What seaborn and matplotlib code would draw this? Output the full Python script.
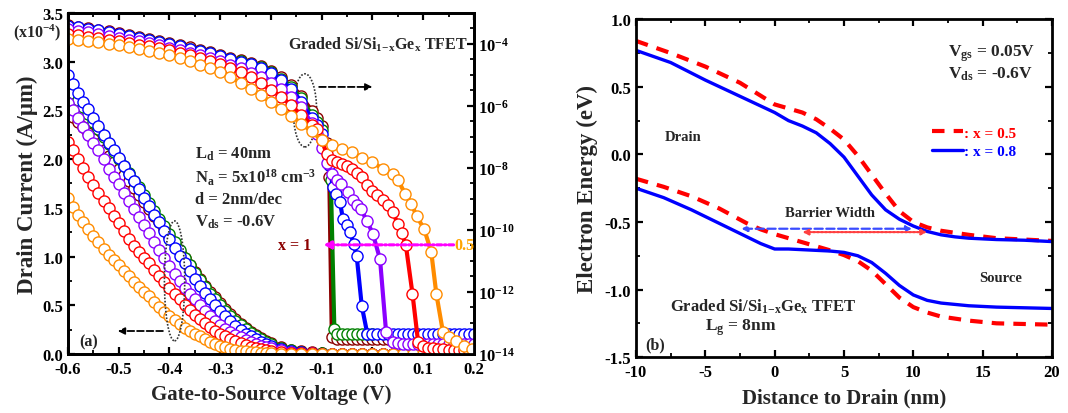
"""Graded Si/Si(1-x)Ge(x) TFET: transfer curves (a) and band diagram (b)."""
import numpy as np
import matplotlib
matplotlib.use("Agg")
import matplotlib.pyplot as plt
import matplotlib.ticker as mticker
from matplotlib.patches import Ellipse
from matplotlib.lines import Line2D
import seaborn as sns

# =============================================================================
# Panel (a) data
# =============================================================================
# linear-scale drain current (x1e-4 A/um) on the left axis
V_LIN = np.round(np.concatenate([np.arange(-0.60, -0.195, 0.01),
                                 np.arange(-0.18, 0.205, 0.02)]), 3)

LIN_MAROON = [2.48, 2.43, 2.38, 2.33, 2.27, 2.21, 2.15, 2.09, 2.03, 1.97,
              1.90, 1.84, 1.77, 1.70, 1.63, 1.56, 1.49, 1.42, 1.35, 1.28,
              1.20, 1.13, 1.05, 0.98, 0.91, 0.84, 0.77, 0.70, 0.64, 0.58,
              0.52, 0.46, 0.41, 0.36, 0.31, 0.27, 0.23, 0.19, 0.16, 0.13,
              0.11,
              0.07, 0.045, 0.028, 0.017, 0.009, 0.005, 0.002, 0.001, 0, 0,
              0, 0, 0, 0, 0, 0, 0, 0, 0, 0]
LIN_GREEN = [2.76, 2.68, 2.61, 2.53, 2.46, 2.38, 2.31, 2.23, 2.15, 2.07,
             2.00, 1.93, 1.86, 1.78, 1.71, 1.63, 1.55, 1.47, 1.39, 1.31,
             1.23, 1.15, 1.07, 0.99, 0.91, 0.83, 0.76, 0.69, 0.62, 0.56,
             0.50, 0.44, 0.39, 0.34, 0.30, 0.26, 0.22, 0.18, 0.15, 0.12,
             0.10,
             0.065, 0.04, 0.025, 0.015, 0.008, 0.004, 0.002, 0.001, 0, 0,
             0, 0, 0, 0, 0, 0, 0, 0, 0, 0]
LIN_BLUE = [2.86, 2.77, 2.68, 2.59, 2.51, 2.42, 2.34, 2.25, 2.17, 2.09,
            2.01, 1.93, 1.85, 1.77, 1.69, 1.60, 1.52, 1.43, 1.35, 1.26,
            1.18, 1.09, 1.01, 0.93, 0.85, 0.77, 0.70, 0.63, 0.56, 0.50,
            0.44, 0.39, 0.34, 0.29, 0.25, 0.21, 0.18, 0.15, 0.12, 0.10,
            0.08,
            0.05, 0.03, 0.018, 0.01, 0.005, 0.003, 0.002, 0.001, 0, 0,
            0, 0, 0, 0, 0, 0, 0, 0, 0, 0]
LIN_PURPLE = [2.58, 2.50, 2.42, 2.33, 2.25, 2.17, 2.09, 2.00, 1.90, 1.82,
              1.74, 1.65, 1.57, 1.49, 1.41, 1.32, 1.24, 1.15, 1.07, 0.98,
              0.90, 0.82, 0.75, 0.68, 0.62, 0.56, 0.50, 0.44, 0.39, 0.34,
              0.30, 0.26, 0.23, 0.20, 0.17, 0.14, 0.12, 0.10, 0.085, 0.07,
              0.06,
              0.04, 0.025, 0.015, 0.01, 0.005, 0.003, 0.002, 0.001, 0, 0,
              0, 0, 0, 0, 0, 0, 0, 0, 0, 0]
LIN_RED = [2.18, 2.09, 2.00, 1.91, 1.82, 1.73, 1.65, 1.57, 1.50, 1.42,
           1.34, 1.26, 1.18, 1.11, 1.05, 0.99, 0.93, 0.86, 0.80, 0.74,
           0.68, 0.62, 0.56, 0.50, 0.45, 0.40, 0.36, 0.32, 0.28, 0.24,
           0.21, 0.18, 0.15, 0.13, 0.11, 0.09, 0.075, 0.06, 0.05, 0.04,
           0.035,
           0.025, 0.015, 0.01, 0.006, 0.003, 0.002, 0.001, 0.0005, 0, 0,
           0, 0, 0, 0, 0, 0, 0, 0, 0, 0]
LIN_ORANGE = [1.60, 1.51, 1.43, 1.35, 1.28, 1.21, 1.15, 1.08, 1.02, 0.96,
              0.91, 0.85, 0.80, 0.74, 0.69, 0.64, 0.59, 0.53, 0.48, 0.43,
              0.39, 0.35, 0.31, 0.27, 0.24, 0.21, 0.18, 0.15, 0.12, 0.10,
              0.08, 0.067, 0.055, 0.045, 0.035, 0.027, 0.02, 0.016, 0.012, 0.009,
              0.007,
              0.004, 0.002, 0.001, 0.0005, 0, 0, 0, 0, 0, 0,
              0, 0, 0, 0, 0, 0, 0, 0, 0, 0]

# log-scale drain current (log10 A/um) on the right axis
V_TOP = np.round(np.arange(-0.60, -0.115, 0.02), 2)

LOG_MAROON_TOP = [-3.40, -3.45, -3.50, -3.55, -3.60, -3.66, -3.72, -3.78, -3.84, -3.90,
                  -3.97, -4.04, -4.11, -4.19, -4.27, -4.35, -4.44, -4.52, -4.61, -4.72,
                  -4.87, -5.07, -5.32, -5.68, -6.15]
V_MAROON_END = [-0.11, -0.10, -0.09, -0.085, -0.08, -0.07, -0.06, -0.05, -0.04,
                -0.03, -0.02, -0.01, 0.00, 0.01, 0.02, 0.03, 0.04]
LOG_MAROON_END = [-6.40, -6.65, -7.20, -8.30, -13.45, -13.52, -13.52, -13.52, -13.52,
                  -13.52, -13.52, -13.52, -13.52, -13.52, -13.52, -13.52, -13.52]

LOG_GREEN_TOP = [-3.44, -3.49, -3.54, -3.59, -3.64, -3.70, -3.76, -3.82, -3.88, -3.94,
                 -4.01, -4.08, -4.15, -4.23, -4.31, -4.39, -4.48, -4.56, -4.65, -4.76,
                 -4.91, -5.12, -5.38, -5.76, -6.28]
V_GREEN_END = [-0.11, -0.10, -0.09, -0.082, -0.075, -0.07, -0.06, -0.05, -0.04,
               -0.03, -0.02, -0.01, 0.00]
LOG_GREEN_END = [-6.52, -6.78, -7.40, -8.40, -13.20, -13.35, -13.35, -13.35, -13.35,
                 -13.35, -13.35, -13.35, -13.35]

LOG_BLUE_TOP = [-3.41, -3.46, -3.51, -3.56, -3.62, -3.68, -3.74, -3.80, -3.87, -3.93,
                -4.00, -4.07, -4.15, -4.23, -4.31, -4.40, -4.49, -4.57, -4.66, -4.78,
                -4.95, -5.18, -5.45, -5.86, -6.40]
V_BLUE_END = [-0.11, -0.10, -0.09, -0.085, -0.078, -0.071, -0.064, -0.058, -0.051,
              -0.044, -0.037, -0.031, -0.021, -0.01, 0.00, 0.01, 0.02, 0.03, 0.04,
              0.05, 0.06, 0.07, 0.08, 0.09, 0.10, 0.11, 0.12, 0.13, 0.14, 0.15,
              0.16, 0.17, 0.18, 0.19, 0.20]
LOG_BLUE_END = [-6.62, -6.90, -7.35, -7.90, -8.61, -8.85, -9.10, -9.65, -9.85,
                -10.06, -10.45, -10.84, -12.45, -13.35, -13.35, -13.35, -13.35, -13.35, -13.35,
                -13.35, -13.35, -13.35, -13.35, -13.35, -13.35, -13.35, -13.35, -13.35, -13.35,
                -13.35, -13.35, -13.35, -13.35, -13.35, -13.35]

LOG_PURPLE_TOP = [-3.52, -3.57, -3.62, -3.68, -3.74, -3.80, -3.86, -3.92, -3.98, -4.05,
                  -4.12, -4.20, -4.28, -4.37, -4.46, -4.56, -4.67, -4.79, -4.93, -5.08,
                  -5.25, -5.45, -5.70, -6.05, -6.55]
V_PURPLE_END = [-0.11, -0.10, -0.09, -0.08, -0.07, -0.061, -0.048, -0.039, -0.031,
                -0.023, -0.011, 0.001, 0.015, 0.027, 0.04, 0.05, 0.06, 0.07, 0.08,
                0.09, 0.10, 0.11, 0.12, 0.13, 0.14, 0.15, 0.16, 0.17, 0.18, 0.19, 0.20]
LOG_PURPLE_END = [-6.90, -7.35, -7.85, -8.20, -8.40, -8.52, -8.77, -9.05, -9.18,
                  -9.32, -9.70, -10.13, -10.94, -13.30, -13.60, -13.66, -13.68, -13.68, -13.68,
                  -13.68, -13.68, -13.68, -13.68, -13.68, -13.68, -13.68, -13.68, -13.68, -13.68,
                  -13.68, -13.68]

LOG_RED_TOP = [-3.68, -3.72, -3.77, -3.82, -3.87, -3.92, -3.97, -4.02, -4.07, -4.13,
               -4.20, -4.28, -4.36, -4.45, -4.55, -4.66, -4.78, -4.92, -5.07, -5.27,
               -5.48, -5.70, -5.98, -6.30, -6.60]
V_RED_END = [-0.11, -0.10, -0.09, -0.08, -0.07, -0.06, -0.05, -0.04, -0.03, -0.02,
             -0.01, 0.00, 0.01, 0.02, 0.03, 0.04, 0.05, 0.058, 0.066, 0.079,
             0.09, 0.10, 0.11, 0.12, 0.13, 0.14, 0.15, 0.16, 0.17, 0.18, 0.19, 0.20]
LOG_RED_END = [-6.74, -7.10, -7.55, -7.75, -7.82, -7.87, -7.95, -8.03, -8.15, -8.30,
               -8.55, -8.75, -8.88, -9.05, -9.20, -9.42, -9.80, -10.10, -10.50, -12.06,
               -13.60, -13.75, -13.80, -13.82, -13.84, -13.85, -13.86, -13.87, -13.88, -13.88,
               -13.89, -13.90]

LOG_ORANGE_TOP = [-3.83, -3.87, -3.91, -3.95, -4.00, -4.04, -4.09, -4.15, -4.22, -4.29,
                  -4.37, -4.46, -4.56, -4.67, -4.79, -4.92, -5.07, -5.25, -5.45, -5.65,
                  -5.88, -6.10, -6.32, -6.57, -6.82]
V_ORANGE_END = [-0.10, -0.08, -0.06, -0.04, -0.02, 0.00, 0.02, 0.04, 0.05, 0.065,
                0.077, 0.087, 0.102, 0.116, 0.126, 0.139, 0.15, 0.165, 0.18, 0.196]
LOG_ORANGE_END = [-7.10, -7.25, -7.40, -7.50, -7.68, -7.81, -8.03, -8.20, -8.38, -8.85,
                  -9.16, -9.55, -9.97, -10.71, -12.06, -13.29, -13.45, -13.58, -13.74, -13.84]

COLORS = {
    "maroon": "#8b0000",
    "green": "#008000",
    "blue": "#0000ff",
    "purple": "#8a00ff",
    "red": "#ff0000",
    "orange": "#ff8c00",
}

# =============================================================================
# Panel (b) data: band edges vs distance to drain
# =============================================================================
X_UP = [-10, -7.5, -5, -2.5, 0, 1, 2, 3, 4, 5, 6, 7, 8, 9, 10, 11, 12, 13, 14, 16, 18, 20]
CB_X05 = [0.84, 0.75, 0.65, 0.53, 0.37, 0.34, 0.31, 0.26, 0.19, 0.11, -0.01, -0.15, -0.29,
          -0.42, -0.50, -0.54, -0.565, -0.58, -0.595, -0.62, -0.63, -0.64]
CB_X08 = [0.77, 0.68, 0.55, 0.43, 0.31, 0.25, 0.21, 0.16, 0.08, -0.02, -0.16, -0.30, -0.41,
          -0.48, -0.53, -0.57, -0.595, -0.61, -0.62, -0.63, -0.635, -0.645]
X_LO = [-10, -8, -6, -4, -2, -1, 0, 1, 2, 3, 4, 5, 6, 7, 8, 9, 10, 11, 12, 14, 16, 18, 20]
VB_X05 = [-0.18, -0.24, -0.31, -0.40, -0.51, -0.555, -0.59, -0.62, -0.65, -0.68, -0.71, -0.745,
          -0.79, -0.86, -0.96, -1.06, -1.13, -1.17, -1.20, -1.23, -1.25, -1.255, -1.26]
VB_X08 = [-0.25, -0.32, -0.41, -0.51, -0.61, -0.66, -0.70, -0.70, -0.705, -0.71, -0.715, -0.725,
          -0.75, -0.80, -0.88, -0.97, -1.04, -1.08, -1.10, -1.12, -1.13, -1.135, -1.14]

# =============================================================================
# Style
# =============================================================================
sns.set_theme(style="ticks", rc={
    "axes.edgecolor": "black", "axes.linewidth": 2.0,
    "xtick.color": "black", "ytick.color": "black",
    "xtick.direction": "in", "ytick.direction": "in",
    "xtick.major.width": 1.6, "ytick.major.width": 1.6,
    "xtick.minor.width": 1.3, "ytick.minor.width": 1.3,
    "xtick.major.size": 5, "ytick.major.size": 5,
    "xtick.minor.size": 3, "ytick.minor.size": 3,
})
plt.rcParams["font.family"] = ["Liberation Serif", "DejaVu Serif"]
plt.rcParams["font.weight"] = "bold"
plt.rcParams["axes.labelweight"] = "bold"
plt.rcParams["mathtext.fontset"] = "custom"
plt.rcParams["mathtext.rm"] = "Liberation Serif:bold"
plt.rcParams["mathtext.it"] = "Liberation Serif:bold"
plt.rcParams["mathtext.bf"] = "Liberation Serif:bold"
plt.rcParams["axes.unicode_minus"] = False

TICK_FS = 12
XLABEL_FS = 15
YLABEL_FS = 16.5
TEXT_FS = 10.5
SIGE = "Si/Si$_{1\\!-\\!x}$Ge$_x$"


def curve(ax, x, y, color, markers=True, **kw):
    if markers:
        kw.update(marker="o", markersize=8, markerfacecolor="white",
                  markeredgecolor=color, markeredgewidth=1.0)
    sns.lineplot(x=np.asarray(x, float), y=np.asarray(y, float), ax=ax, color=color,
                 sort=False, estimator=None, legend=False, **kw)


fig = plt.figure(figsize=(10.68, 4.14), dpi=100)
ax = fig.add_axes([0.0637, 0.1425, 0.380, 0.824])
ax2 = ax.twinx()
axr = fig.add_axes([0.5955, 0.135, 0.3895, 0.816])

# ---- (a) linear curves ----
for name, vals in [("maroon", LIN_MAROON), ("green", LIN_GREEN), ("blue", LIN_BLUE),
                   ("purple", LIN_PURPLE), ("red", LIN_RED), ("orange", LIN_ORANGE)]:
    curve(ax, V_LIN, vals, COLORS[name], linewidth=2.0)

# ---- (a) log curves ----
ax2.set_yscale("log")
log_sets = [
    ("maroon", LOG_MAROON_TOP, V_MAROON_END, LOG_MAROON_END),
    ("green", LOG_GREEN_TOP, V_GREEN_END, LOG_GREEN_END),
    ("blue", LOG_BLUE_TOP, V_BLUE_END, LOG_BLUE_END),
    ("purple", LOG_PURPLE_TOP, V_PURPLE_END, LOG_PURPLE_END),
    ("red", LOG_RED_TOP, V_RED_END, LOG_RED_END),
    ("orange", LOG_ORANGE_TOP, V_ORANGE_END, LOG_ORANGE_END),
]
for name, top, v_end, log_end in log_sets:
    v = np.concatenate([V_TOP, v_end])
    i_d = 10.0 ** np.concatenate([top, log_end])
    curve(ax2, v, i_d, COLORS[name], linewidth=3.0)

ax.set_xlim(-0.6, 0.2)
ax.set_ylim(0, 3.5)
ax2.set_ylim(1e-14, 1e-3)
ax.xaxis.set_major_locator(mticker.MultipleLocator(0.1))
ax.xaxis.set_minor_locator(mticker.MultipleLocator(0.05))
ax.xaxis.set_major_formatter(mticker.FormatStrFormatter("%.1f"))
ax.yaxis.set_major_locator(mticker.MultipleLocator(0.5))
ax.yaxis.set_minor_locator(mticker.MultipleLocator(0.25))
ax.yaxis.set_major_formatter(mticker.FormatStrFormatter("%.1f"))
ax.tick_params(which="both", top=True, right=False, labelsize=TICK_FS)
ax.tick_params(axis="x", pad=5)

exps = np.arange(-14, -3, 2)
ax2.yaxis.set_major_locator(mticker.FixedLocator(10.0 ** exps))
ax2.yaxis.set_major_formatter(mticker.FixedFormatter([f"$10^{{{e}}}$" for e in exps]))
minor_e = [e / 2 for e in range(-27, -5) if e % 4 != 0]
ax2.yaxis.set_minor_locator(mticker.FixedLocator(10.0 ** np.array(minor_e)))
ax2.yaxis.set_minor_formatter(mticker.NullFormatter())
ax2.tick_params(which="both", labelsize=TICK_FS, pad=3)

ax.set_xlabel("Gate-to-Source Voltage (V)", fontsize=XLABEL_FS, labelpad=5)
ax.set_ylabel("Drain Current (A/\u03bcm)", fontsize=YLABEL_FS, labelpad=3)
ax2.set_ylabel("")
for sp in ax2.spines.values():
    sp.set_linewidth(2.0)

fig.text(0.012, 0.921, "(x10$^{-4}$)", fontsize=11.5, ha="left", va="center", zorder=20)

ax.text(0.542, 0.909, f"Graded {SIGE} TFET", transform=ax.transAxes,
        fontsize=11.5, ha="left", va="center")
for frac_y, s in [(0.587, "L$_d$ = 40nm"), (0.519, "N$_a$ = 5x10$^{18}$ cm$^{-3}$"),
                  (0.455, "d = 2nm/dec"), (0.390, "V$_{ds}$ = -0.6V")]:
    ax.text(0.313, frac_y, s, transform=ax.transAxes, fontsize=12, ha="left", va="center")
ax.text(0.028, 0.038, "(a)", transform=ax.transAxes, fontsize=11.5, ha="left", va="center")

# ellipses and dashed arrows pointing to the axes
ax.add_patch(Ellipse((-0.133, 2.50), 0.046, 0.75, fill=False, ec="#333333",
                     lw=1.2, ls=(0, (1, 1)), zorder=5))
ax.add_patch(Ellipse((-0.390, 0.75), 0.040, 1.23, fill=False, ec="#333333",
                     lw=1.2, ls=(0, (1, 1)), zorder=5))
ax.annotate("", xy=(0.0, 2.74), xytext=(-0.105, 2.74),
            arrowprops=dict(arrowstyle="-|>", color="black", lw=1.3, ls="--",
                            mutation_scale=10, shrinkA=0, shrinkB=0))
ax.annotate("", xy=(-0.502, 0.236), xytext=(-0.413, 0.236),
            arrowprops=dict(arrowstyle="-|>", color="black", lw=1.3, ls="--",
                            mutation_scale=10, shrinkA=0, shrinkB=0))

# x direction arrow (log axis)
y_arrow = 10 ** -10.48
ax2.annotate("", xy=(-0.097, y_arrow), xytext=(0.160, y_arrow),
             arrowprops=dict(arrowstyle="-|>", color="#ff00ff", lw=2.2,
                             ls=(0, (1.6, 0.9, 0.5, 0.9)), mutation_scale=11,
                             shrinkA=0, shrinkB=0))
ax2.text(-0.153, y_arrow, "x = 1", color=COLORS["maroon"], fontsize=11.5,
         ha="center", va="center")
ax2.text(0.182, y_arrow, "0.5", color="#ffa500", fontsize=11.5, ha="center", va="center")

# =============================================================================
# Panel (b)
# =============================================================================
dash = (0, (3, 2.2))
curve(axr, X_UP, CB_X05, "#ff0000", markers=False, linewidth=3.0, linestyle=dash)
curve(axr, X_UP, CB_X08, "#0000ff", markers=False, linewidth=2.4)
curve(axr, X_LO, VB_X05, "#ff0000", markers=False, linewidth=3.0, linestyle=dash)
curve(axr, X_LO, VB_X08, "#0000ff", markers=False, linewidth=2.4)

axr.set_xlim(-10, 20)
axr.set_ylim(-1.5, 1.0)
axr.xaxis.set_major_locator(mticker.MultipleLocator(5))
axr.xaxis.set_minor_locator(mticker.MultipleLocator(2.5))
axr.yaxis.set_major_locator(mticker.MultipleLocator(0.5))
axr.yaxis.set_minor_locator(mticker.MultipleLocator(0.25))
axr.xaxis.set_major_formatter(mticker.FormatStrFormatter("%d"))
axr.yaxis.set_major_formatter(mticker.FormatStrFormatter("%.1f"))
axr.tick_params(which="both", top=True, right=True, labelsize=TICK_FS)
axr.tick_params(axis="x", pad=5)
axr.set_xlabel("Distance to Drain (nm)", fontsize=XLABEL_FS, labelpad=5)
axr.set_ylabel("Electron Energy (eV)", fontsize=YLABEL_FS, labelpad=5)

# barrier width arrows
axr.annotate("", xy=(9.9, -0.55), xytext=(-2.4, -0.55),
             arrowprops=dict(arrowstyle="<|-|>", color="#3a4cff", lw=1.6, ls="--",
                             mutation_scale=8, shrinkA=0, shrinkB=0))
axr.annotate("", xy=(11.0, -0.575), xytext=(2.0, -0.575),
             arrowprops=dict(arrowstyle="<|-|>", color="#ff4040", lw=1.6,
                             ls=(0, (1, 0.8)), mutation_scale=8, shrinkA=0, shrinkB=0))

axr.text(0.75, 0.902, "V$_{gs}$ = 0.05V", transform=axr.transAxes, fontsize=12.5,
         ha="left", va="center")
axr.text(0.75, 0.840, "V$_{ds}$ = -0.6V", transform=axr.transAxes, fontsize=12.5,
         ha="left", va="center")
axr.text(0.07, 0.654, "Drain", transform=axr.transAxes, fontsize=TEXT_FS, ha="left", va="center")
axr.text(0.358, 0.429, "Barrier Width", transform=axr.transAxes, fontsize=TEXT_FS,
         ha="left", va="center")
axr.text(0.826, 0.237, "Source", transform=axr.transAxes, fontsize=TEXT_FS,
         ha="left", va="center")
axr.text(0.082, 0.151, f"Graded {SIGE} TFET", transform=axr.transAxes,
         fontsize=12, ha="left", va="center")
axr.text(0.166, 0.089, "L$_g$ = 8nm", transform=axr.transAxes, fontsize=12.5,
         ha="left", va="center")
axr.text(0.022, 0.038, "(b)", transform=axr.transAxes, fontsize=11.5, ha="left", va="center")

handles = [Line2D([], [], color="#ff0000", lw=3.0, ls=dash),
           Line2D([], [], color="#0000ff", lw=2.4)]
leg = axr.legend(handles, [": x = 0.5", ": x = 0.8"], loc="upper left",
                 bbox_to_anchor=(0.705, 0.693), frameon=False, fontsize=11,
                 handlelength=2.0, handletextpad=0.1, labelspacing=0.3,
                 borderpad=0.2, borderaxespad=0.0)
for txt, c in zip(leg.get_texts(), ["#ff0000", "#0000ff"]):
    txt.set_color(c)

fig.savefig("out.png", dpi=100, facecolor="white")
plt.close(fig)
